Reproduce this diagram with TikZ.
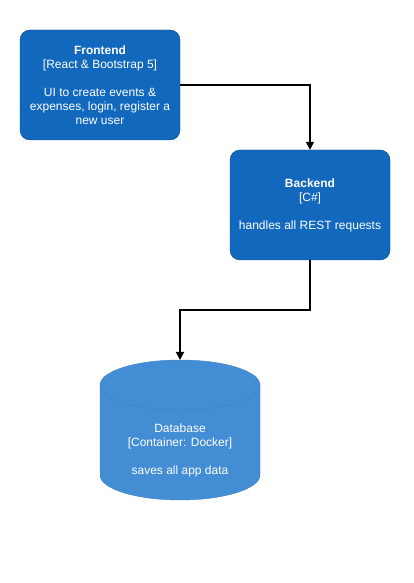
\documentclass[tikz,border=0pt]{standalone}
\usepackage{fontspec}
\setmainfont{Liberation Sans}
\usetikzlibrary{arrows.meta}

\definecolor{contblue}{HTML}{1168BD}
\definecolor{contline}{HTML}{0B4884}
\definecolor{dbblue}{HTML}{438DD5}
\definecolor{dbline}{HTML}{3C7FC0}

\tikzset{
    container/.style={draw=contline, fill=contblue, text=white, rounded corners=10pt,
        minimum width=160pt, minimum height=110pt, align=center, inner sep=0pt},
    link/.style={line width=1.5pt, -{Triangle[length=8pt,width=8pt]}}
}

\begin{document}
\begin{tikzpicture}[x=1pt, y=1pt, font=\fontsize{12}{14}\selectfont]
        \useasboundingbox (0,0) rectangle (413,583);

        \node[container] (frontend) at (100,498)
            {\textbf{Frontend}\\{[React \& Bootstrap 5]}\\[14pt]UI to create events \&\\expenses, login, register a\\new user};
        \node[container] (backend) at (310,378)
            {\textbf{Backend}\\{[C\#]}\\[14pt]handles all REST requests};

        % database cylinder
        \filldraw[draw=dbline, fill=dbblue] (100,198) -- (100,108) arc (180:360:80 and 25) --
            (260,198) arc (0:180:80 and 25) -- cycle;
        \draw[dbline] (100,198) arc (180:360:80 and 25);
        \coordinate (dbtop) at (180,223);
        \node[text=white, align=center] (database) at (180,133)
            {Database\\{[Container: Docker]}\\[14pt]saves all app data};

        \draw[link] (frontend.east) -| (backend.north);
        \draw[link] (backend.south) -- (310,273) -| (dbtop);
    \end{tikzpicture}
\end{document}
